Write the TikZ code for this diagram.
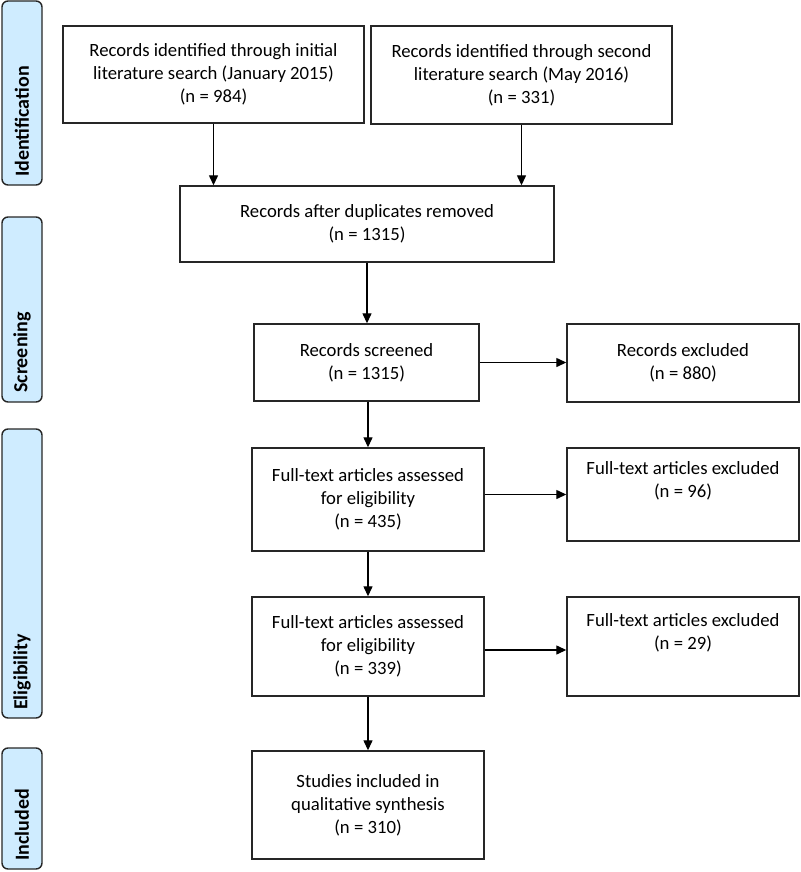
\documentclass[tikz,border=0pt]{standalone}
\usepackage{fontspec}
\setmainfont{Carlito}
\usetikzlibrary{arrows.meta}
\definecolor{sidefill}{RGB}{207,236,255}
\tikzset{
  box/.style={draw=black!85, line width=1.4pt, fill=white, align=center, inner sep=0pt,
    font=\fontsize{18.7}{23}\selectfont},
  side/.style={draw=black!85, line width=1.4pt, fill=sidefill, rounded corners=6pt},
  sidelabel/.style={rotate=90, anchor=west, inner sep=0pt, font=\fontsize{20}{24}\selectfont\bfseries},
  arr/.style={line width=1.3pt, -{Triangle[length=10pt,width=9pt]}}
}
\begin{document}
\begin{tikzpicture}[x=1pt,y=-1pt]
\useasboundingbox (0,0) rectangle (800,872);
% side bars
\draw[side] (2,1) rectangle (42,185);
\node[sidelabel] (lid) at (22,177) {Identification};
\draw[side] (2,217) rectangle (42,402);
\node[sidelabel] (lsc) at (22,393) {Screening};
\draw[side] (2,429) rectangle (42,718);
\node[sidelabel] (lel) at (22,710) {Eligibility};
\draw[side] (2,748) rectangle (42,869);
\node[sidelabel] (lin) at (22,861) {Included};
% boxes
\node[box, minimum width=301pt, minimum height=97pt] (b1) at (213.5,74.5)
  {Records identified through initial\\literature search (January 2015)\\(n = 984)};
\node[box, minimum width=301pt, minimum height=98pt] (b2) at (521.5,75)
  {Records identified through second\\literature search (May 2016)\\(n = 331)};
\node[box, minimum width=374pt, minimum height=76pt] (b3) at (367,224)
  {Records after duplicates removed\\(n = 1315)};
\node[box, minimum width=225pt, minimum height=77pt] (scr) at (366.5,362.5)
  {Records screened\\(n = 1315)};
\node[box, minimum width=232pt, minimum height=78pt] (ex1) at (683,363)
  {Records excluded\\(n = 880)};
\node[box, minimum width=232pt, minimum height=103pt] (ft1) at (368,499.5)
  {Full-text articles assessed\\for eligibility\\(n = 435)};
\node[box, minimum width=232pt, minimum height=93pt] (ex2) at (683,494.5)
  {Full-text articles excluded\\(n = 96)\\\strut};
\node[box, minimum width=232pt, minimum height=99pt] (ft2) at (368,646.5)
  {Full-text articles assessed\\for eligibility\\(n = 339)};
\node[box, minimum width=232pt, minimum height=99pt] (ex3) at (683,646.5)
  {Full-text articles excluded\\(n = 29)\\\strut};
\node[box, minimum width=232pt, minimum height=108pt] (inc) at (368,805)
  {Studies included in\\qualitative synthesis\\(n = 310)};
% arrows
\draw[arr] (b1.south) -- (b1.south |- b3.north);
\draw[arr] (b2.south) -- (b2.south |- b3.north);
\draw[arr] (b3.south) -- (b3.south |- scr.north);
\draw[arr] (scr.east) -- (scr.east -| ex1.west);
\draw[arr] (scr.south -| ft1.north) -- (ft1.north);
\draw[arr] (ft1.east |- ex2.west) -- (ex2.west);
\draw[arr] (ft1.south) -- (ft2.north);
\draw[arr] (ft2.east |- 0,650) -- (ex3.west |- 0,650);
\draw[arr] (ft2.south) -- (inc.north);
\end{tikzpicture}
\end{document}
